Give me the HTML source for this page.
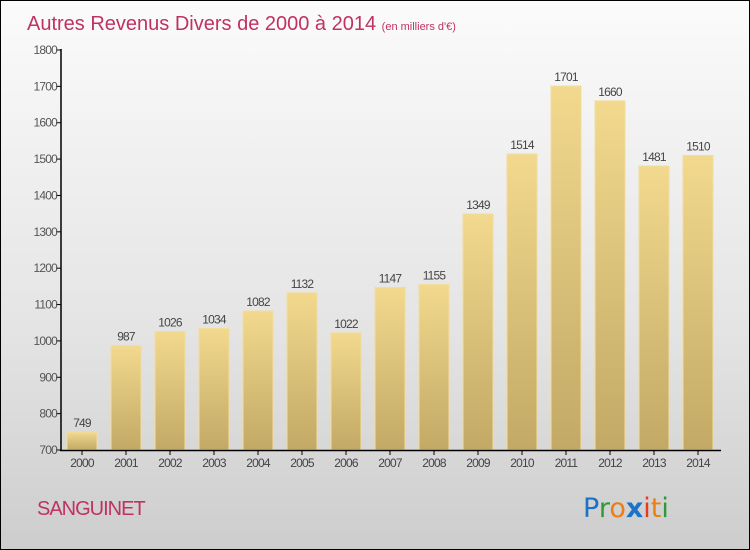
<!DOCTYPE html>
<html><head><meta charset="utf-8"><style>
body{margin:0;}
#c{width:748px;height:548px;border:1px solid #000;background:linear-gradient(#fbfbfb,#e4e4e4 60%,#cdcdcd);position:relative;font-family:"Liberation Sans",sans-serif;overflow:hidden}
</style></head><body>
<div id="c">
<svg id="s" width="748" height="548" style="position:absolute;left:0;top:0">
<defs><linearGradient id="g" x1="0" y1="0" x2="0" y2="1"><stop offset="0" stop-color="#f2d98e"/><stop offset="1" stop-color="#c2a965"/></linearGradient></defs>
<text x="26" y="29" font-size="20" fill="#c0325f">Autres Revenus Divers de 2000 à 2014 <tspan font-size="11">(en milliers d'€)</tspan></text>
<text x="36" y="514" font-size="20" fill="#c0325f" letter-spacing="-1">SANGUINET</text>
<g font-size="27" font-family="'DejaVu Sans',sans-serif">
<text x="582" y="516"><tspan fill="#1a73c9">P</tspan><tspan fill="#2e9a3a">r</tspan><tspan fill="#f07d0f">o</tspan><tspan fill="#1a73c9" font-weight="bold">x</tspan><tspan fill="#e8391d">i</tspan><tspan fill="#f07d0f">t</tspan><tspan fill="#2e9a3a">i</tspan></text>
</g>
</svg>
</div>
<script>
const years=["2000","2001","2002","2003","2004","2005","2006","2007","2008","2009","2010","2011","2012","2013","2014"];
const values=[749,987,1026,1034,1082,1132,1022,1147,1155,1349,1514,1701,1660,1481,1510];
const yTicks=[700,800,900,1000,1100,1200,1300,1400,1500,1600,1700,1800];
const NS="http://www.w3.org/2000/svg",s=document.getElementById('s');
const y=v=>449-(v-700)*(400/1100);
const x=i=>81+i*44;
function el(t,a,p){const e=document.createElementNS(NS,t);for(const k in a)e.setAttribute(k,a[k]);(p||s).appendChild(e);return e;}
yTicks.forEach(v=>{
 const l=el('line',{x1:55,x2:60,y1:y(v),y2:y(v),stroke:'#000'});
 
 
 const t=el('text',{x:56,y:y(v)+4,'font-size':12,fill:'#555','text-anchor':'end','letter-spacing':'-0.8'});t.textContent=v;
 
 
});
years.forEach((yr,i)=>{
 const b=el('rect',{x:x(i)-15,y:y(values[i]),width:30,height:449-y(values[i]),fill:'url(#g)',stroke:'#f3dd9a','stroke-width':1});
 
 
 const v=el('text',{x:x(i),y:y(values[i])-5,'font-size':12,fill:'#444','text-anchor':'middle','letter-spacing':'-0.8'});v.textContent=values[i];
 
 
 const tk=el('line',{x1:x(i),x2:x(i),y1:449,y2:454,stroke:'#000'});
 
 
 const t=el('text',{x:x(i),y:466,'font-size':12,fill:'#444','text-anchor':'middle','letter-spacing':'-0.8'});t.textContent=yr;
 
 
});
const ya=el('line',{x1:60,x2:60,y1:48,y2:450,stroke:'#000','stroke-width':1.5});


const xa=el('line',{x1:59,x2:720,y1:449.5,y2:449.5,stroke:'#000','stroke-width':1.5});


</script>
</body></html>
